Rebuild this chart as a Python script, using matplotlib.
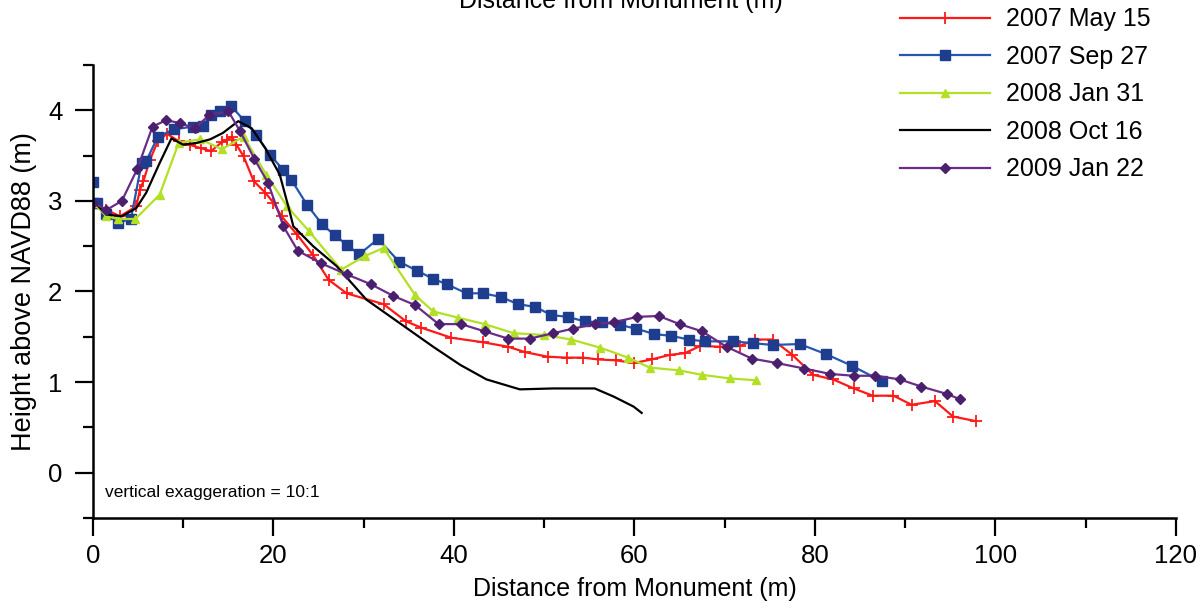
import numpy as np
import matplotlib
matplotlib.use("Agg")
import matplotlib.pyplot as plt
from matplotlib.ticker import MultipleLocator

plt.rcParams['font.family'] = ['Liberation Sans', 'DejaVu Sans']

# 2007 May 15
x_may07 = [0, 1.5, 3.0, 4.8, 5.2, 5.6, 6.3, 7.2, 8.2, 9.5, 10.7, 12.0, 13.1, 14.3, 14.8, 15.4, 15.9,
           16.7, 17.8, 19.1, 20.0, 20.9, 22.6, 24.4, 26.1, 28.1, 32.2, 34.7, 36.4, 39.7, 43.2,
           46.0, 47.9, 50.4, 52.5, 54.3, 56.0, 58.0, 59.9, 61.9, 63.9, 65.6, 67.3, 69.5, 71.7,
           73.4, 75.3, 77.5, 79.8, 82.0, 84.3, 86.4, 88.7, 90.7, 93.3, 95.3, 97.8]
y_may07 = [2.98, 2.90, 2.83, 2.94, 3.12, 3.22, 3.45, 3.66, 3.74, 3.66, 3.62, 3.58, 3.55, 3.65, 3.67, 3.71, 3.62,
           3.49, 3.22, 3.09, 2.98, 2.83, 2.63, 2.40, 2.13, 1.98, 1.86, 1.67, 1.60, 1.49, 1.44,
           1.39, 1.33, 1.28, 1.27, 1.27, 1.25, 1.24, 1.21, 1.25, 1.30, 1.32, 1.40, 1.39, 1.40,
           1.47, 1.47, 1.30, 1.08, 1.03, 0.93, 0.85, 0.85, 0.75, 0.79, 0.62, 0.57]

# 2007 Sep 27
x_sep07 = [0, 0, 0.5, 1.5, 2.8, 4.2, 5.4, 5.9, 7.2, 9.0, 11.1, 12.2, 13.1, 14.1, 15.3, 16.8, 18.1,
           19.6, 21.1, 22.0, 23.7, 25.4, 26.8, 28.2, 29.5, 31.6, 33.9, 35.9, 37.7, 39.2, 41.4,
           43.2, 45.2, 47.1, 49.0, 50.8, 52.6, 54.5, 56.4, 58.4, 60.2, 62.2, 64.1, 66.0, 67.8,
           70.9, 73.1, 75.3, 78.3, 81.2, 84.1, 87.4]
y_sep07 = [3.21, 2.98, 2.98, 2.85, 2.76, 2.80, 3.42, 3.44, 3.71, 3.79, 3.82, 3.83, 3.95, 3.99, 4.05, 3.88, 3.73,
           3.51, 3.34, 3.23, 2.96, 2.74, 2.62, 2.51, 2.41, 2.58, 2.33, 2.23, 2.14, 2.08, 1.98,
           1.98, 1.94, 1.86, 1.83, 1.74, 1.72, 1.67, 1.66, 1.63, 1.59, 1.53, 1.51, 1.47, 1.45,
           1.45, 1.43, 1.41, 1.42, 1.31, 1.18, 1.01]

# 2008 Jan 31
x_jan08 = [0, 1.5, 2.8, 4.7, 7.4, 9.5, 11.9, 14.3, 16.7, 19.2, 21.5, 23.9, 27.5, 30.1, 32.2, 35.7,
           37.7, 40.5, 43.4, 46.6, 50.0, 53.0, 56.2, 59.3, 61.7, 64.9, 67.5, 70.6, 73.5]
y_jan08 = [2.98, 2.83, 2.80, 2.80, 3.07, 3.64, 3.68, 3.57, 3.71, 3.29, 2.94, 2.67, 2.24, 2.39, 2.48, 1.96,
           1.78, 1.71, 1.64, 1.54, 1.52, 1.47, 1.38, 1.27, 1.16, 1.13, 1.08, 1.04, 1.02]

# 2008 Oct 16
x_oct08 = [0, 1.5, 3.2, 4.8, 5.9, 7.4, 8.7, 10.0, 11.5, 13.0, 14.4, 16.1, 17.6, 19.1, 20.7, 21.8,
           22.2, 24.4, 27.0, 30.3, 34.0, 37.7, 40.7, 43.6, 47.3, 51.0, 55.6, 57.7, 59.9, 60.8]
y_oct08 = [3.00, 2.85, 2.83, 2.92, 3.09, 3.42, 3.69, 3.62, 3.64, 3.68, 3.75, 3.88, 3.80, 3.58, 3.29, 2.88,
           2.72, 2.50, 2.28, 1.91, 1.65, 1.39, 1.19, 1.03, 0.92, 0.93, 0.93, 0.84, 0.73, 0.66]

# 2009 Jan 22
x_jan09 = [0, 1.5, 3.2, 4.9, 6.6, 8.1, 9.6, 11.3, 12.9, 15.0, 16.3, 17.9, 19.4, 21.1, 22.7, 25.3,
           28.1, 30.8, 33.3, 35.7, 38.3, 40.8, 43.4, 46.0, 48.4, 51.0, 53.2, 55.6, 57.7, 60.3,
           62.7, 65.0, 67.5, 70.2, 73.0, 75.8, 78.8, 81.7, 84.3, 86.7, 89.4, 91.8, 94.6, 96.1]
y_jan09 = [2.98, 2.90, 3.00, 3.35, 3.82, 3.89, 3.86, 3.80, 3.95, 3.99, 3.77, 3.46, 3.20, 2.72, 2.45, 2.31,
           2.19, 2.08, 1.95, 1.85, 1.64, 1.64, 1.56, 1.48, 1.48, 1.54, 1.59, 1.64, 1.66, 1.72,
           1.73, 1.64, 1.56, 1.39, 1.26, 1.21, 1.15, 1.09, 1.07, 1.07, 1.03, 0.95, 0.87, 0.81]

fig = plt.figure(figsize=(12.04, 6.09), dpi=100)
ax = fig.add_axes([0.0772, 0.1494, 0.8995, 0.7439])

ax.plot(x_may07, y_may07, color='#ff1a1a', lw=1.6, marker='+', ms=9, mew=1.3, label='2007 May 15')
ax.plot(x_sep07, y_sep07, color='#2457b0', lw=1.6, marker='s', ms=7, mfc='#1f3d8f', mec='#1f3d8f',
        label='2007 Sep 27')
ax.plot(x_jan08, y_jan08, color='#b2e024', lw=1.6, marker='^', ms=6, label='2008 Jan 31')
ax.plot(x_oct08, y_oct08, color='black', lw=1.6, label='2008 Oct 16')
ax.plot(x_jan09, y_jan09, color='#6a2c86', lw=1.6, marker='D', ms=5, mfc='#4a1f6e', mec='#4a1f6e',
        label='2009 Jan 22')

ax.set_xlim(0, 120)
ax.set_ylim(-0.5, 4.5)
ax.spines['top'].set_visible(False)
ax.spines['right'].set_visible(False)
for s in ['left', 'bottom']:
    ax.spines[s].set_linewidth(1.8)
ax.xaxis.set_major_locator(MultipleLocator(20))
ax.xaxis.set_minor_locator(MultipleLocator(10))
ax.yaxis.set_major_locator(MultipleLocator(1))
ax.yaxis.set_minor_locator(MultipleLocator(0.5))
ax.tick_params(which='major', direction='out', length=13, width=1.6, labelsize=18.5)
ax.tick_params(axis='x', which='major', pad=6)
ax.tick_params(axis='y', which='major', pad=9)
ax.tick_params(which='minor', direction='out', length=7, width=1.6)

ax.set_xlabel('Distance from Monument (m)', fontsize=18, labelpad=6)
ax.set_ylabel('Height above NAVD88 (m)', fontsize=19.5, labelpad=8)

ax.text(1.3, -0.27, 'vertical exaggeration = 10:1', fontsize=12.5)

# cut-off label of the panel above
fig.text(0.516, 0.987, 'Distance from Monument (m)', fontsize=18, ha='center', va='baseline')

fig.legend(loc='upper left', bbox_to_anchor=(0.7475, 0.988), frameon=False, fontsize=18,
           handlelength=3.6, handletextpad=0.65, labelspacing=0.54, borderpad=0, borderaxespad=0)

fig.savefig('out.png', dpi=100)
